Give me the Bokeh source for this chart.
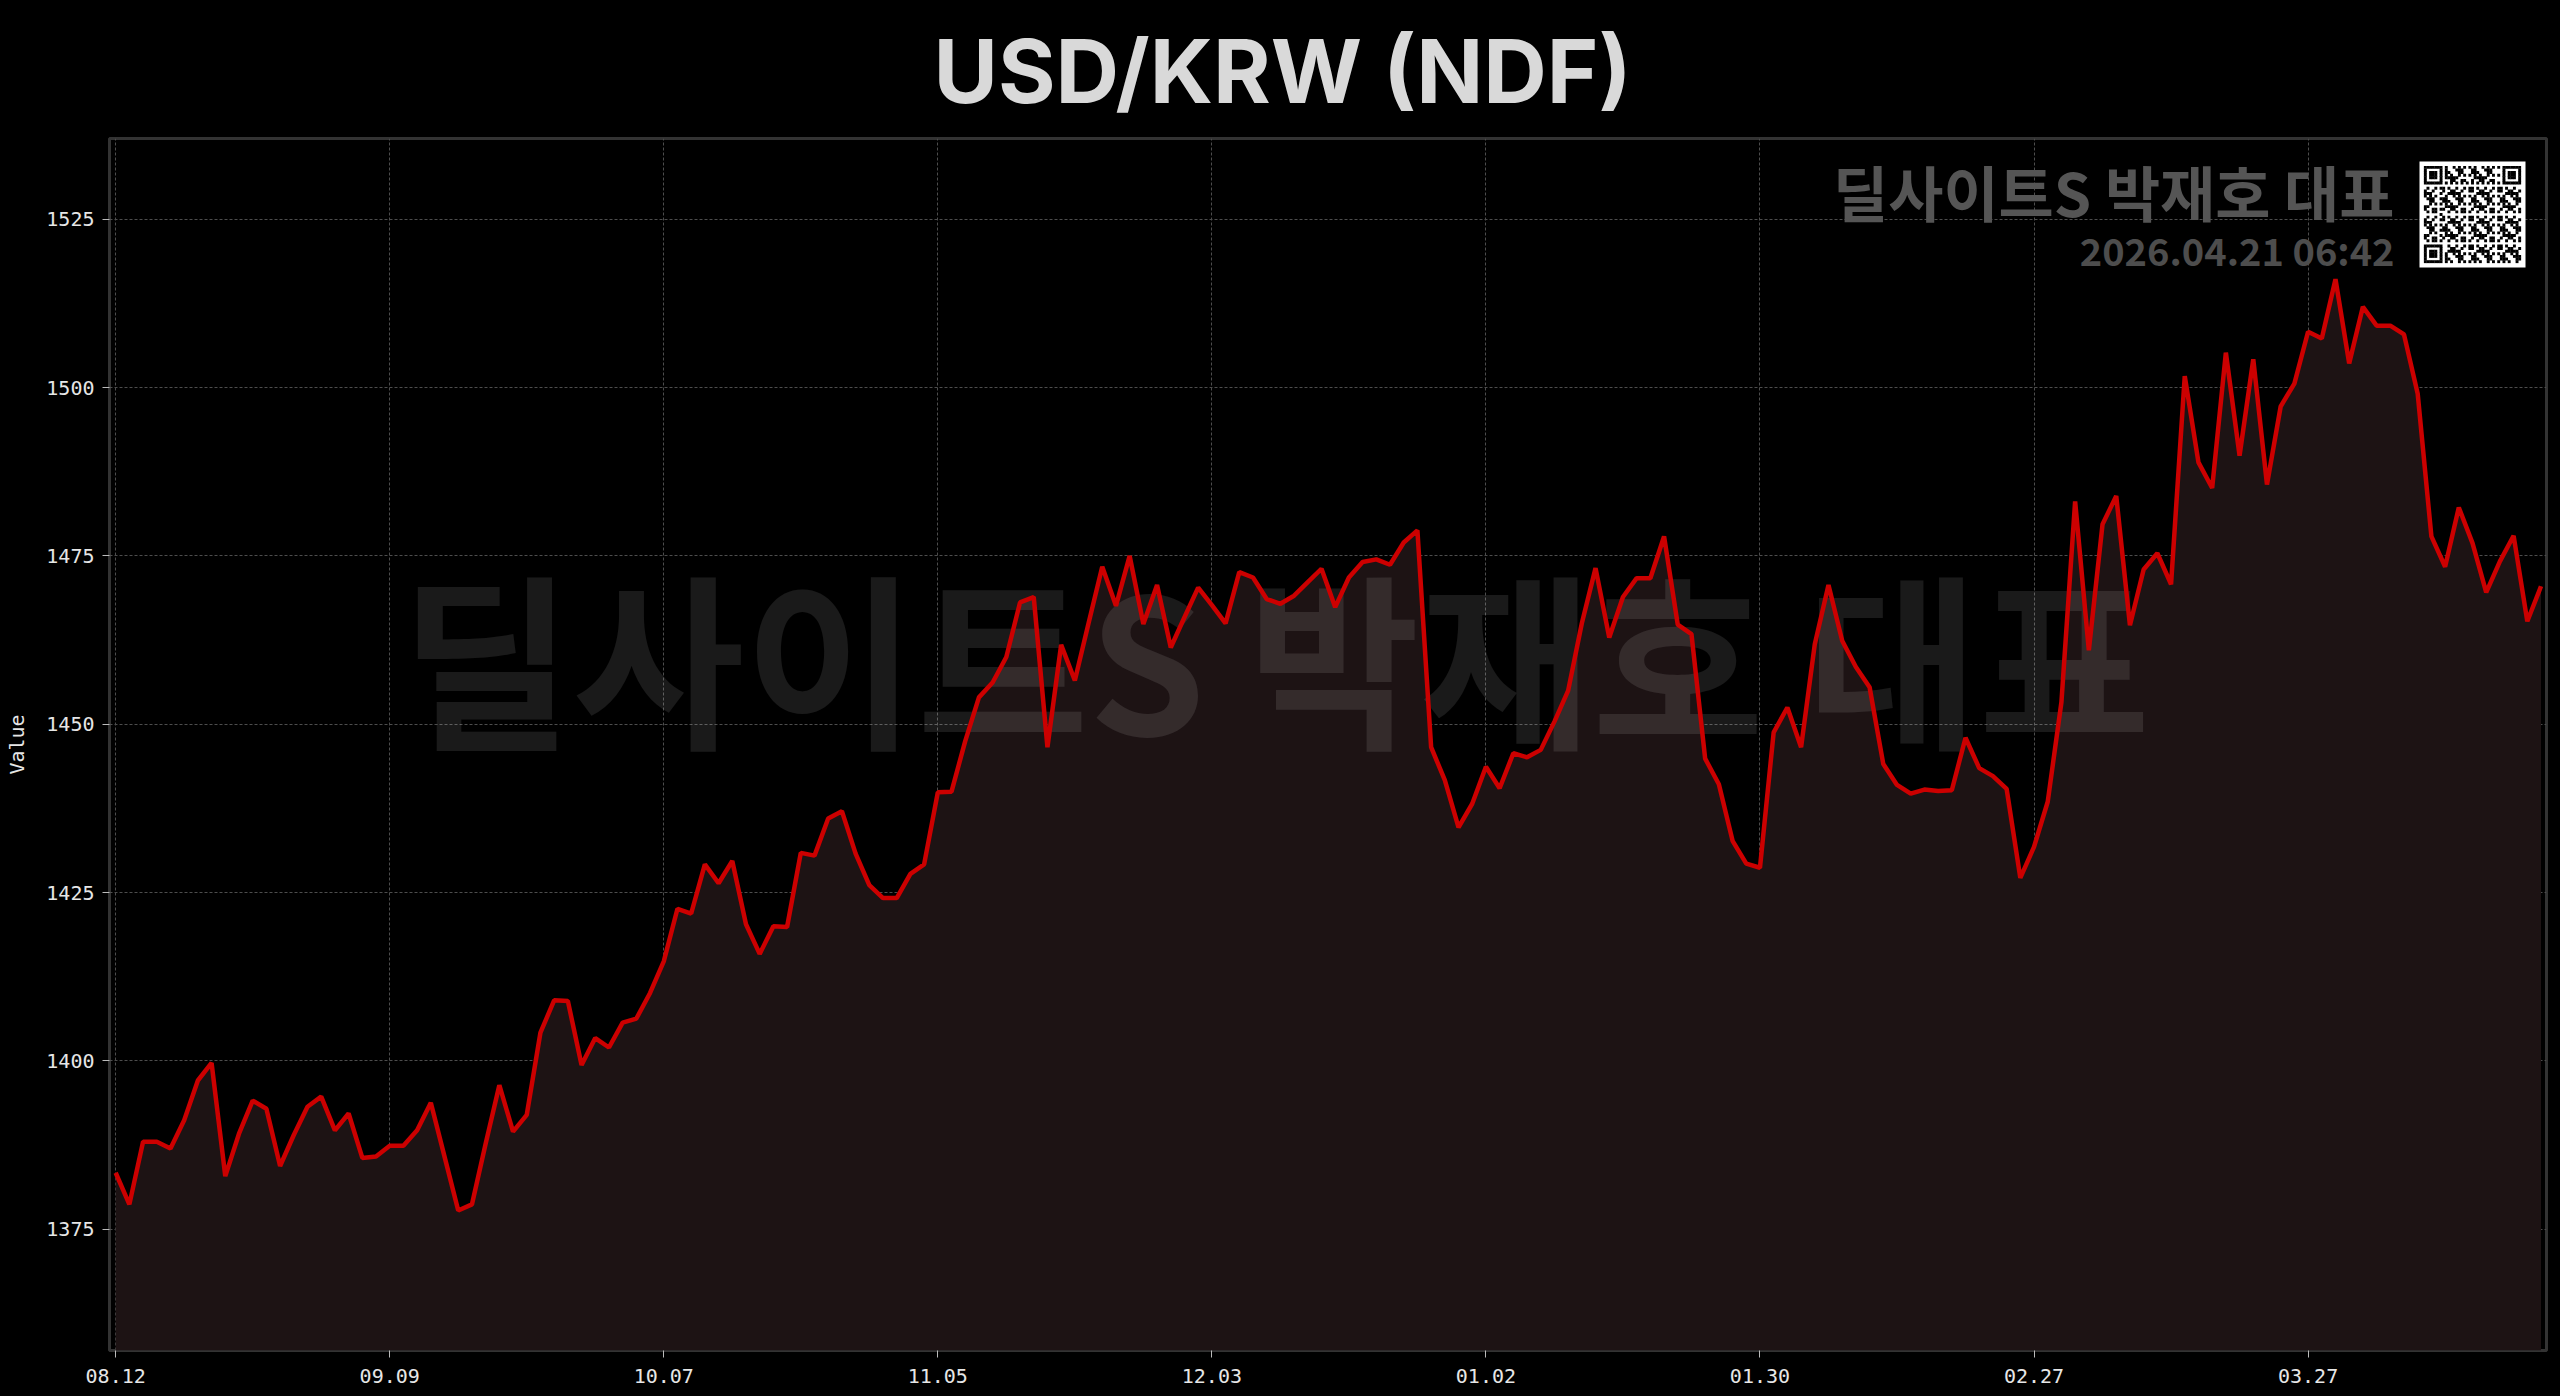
from bokeh.plotting import figure
from bokeh.models import Range1d, FixedTicker, SingleIntervalTicker
from bokeh.core.properties import value
from bokeh.embed import file_html
from bokeh.resources import INLINE

# ---------------- data ----------------
TITLE = "USD/KRW (NDF)"
Y_LABEL = "Value"
TICK_LABELS = ["08.12", "09.09", "10.07", "11.05", "12.03", "01.02", "01.30", "02.27", "03.27"]
TICK_STEP = 20
RATES = [
    1383.4, 1378.7, 1388.0, 1388.0, 1387.0, 1391.2, 1397.1, 1399.7, 1382.9, 1389.2,
    1394.1, 1392.9, 1384.4, 1389.0, 1393.2, 1394.7, 1389.7, 1392.2, 1385.6, 1385.8,
    1387.4, 1387.4, 1389.7, 1393.8, 1385.8, 1377.8, 1378.7, 1387.7, 1396.4, 1389.5,
    1392.0, 1404.2, 1409.0, 1408.9, 1399.4, 1403.4, 1402.0, 1405.7, 1406.3, 1410.1,
    1414.8, 1422.6, 1421.9, 1429.2, 1426.4, 1429.7, 1420.3, 1415.9, 1420.0, 1419.9,
    1430.9, 1430.5, 1436.0, 1437.1, 1430.8, 1426.1, 1424.2, 1424.2, 1427.8, 1429.2,
    1439.9, 1440.0, 1447.5, 1454.0, 1456.2, 1460.0, 1468.1, 1468.9, 1446.6, 1461.8,
    1456.5, 1465.0, 1473.4, 1467.6, 1475.0, 1464.9, 1470.7, 1461.4, 1465.9, 1470.3,
    1467.7, 1465.0, 1472.6, 1471.8, 1468.6, 1467.9, 1469.1, 1471.1, 1473.1, 1467.4,
    1471.8, 1474.1, 1474.5, 1473.7, 1477.0, 1478.8, 1446.6, 1441.7, 1434.7, 1438.2,
    1443.7, 1440.5, 1445.7, 1445.1, 1446.2, 1450.4, 1455.0, 1465.0, 1473.2, 1462.9,
    1468.9, 1471.7, 1471.7, 1477.9, 1464.8, 1463.4, 1444.9, 1441.1, 1432.7, 1429.3,
    1428.7, 1448.8, 1452.5, 1446.6, 1461.9, 1470.7, 1462.4, 1458.5, 1455.5, 1444.1,
    1441.0, 1439.7, 1440.3, 1440.1, 1440.2, 1448.0, 1443.5, 1442.3, 1440.4, 1427.2,
    1431.8, 1438.5, 1453.3, 1483.1, 1461.0, 1479.7, 1483.9, 1464.7, 1473.0, 1475.4,
    1470.8, 1501.7, 1488.9, 1485.1, 1505.2, 1489.9, 1504.2, 1485.6, 1497.2, 1500.6,
    1508.3, 1507.3, 1516.1, 1503.6, 1512.0, 1509.2, 1509.2, 1507.9, 1499.1, 1477.9,
    1473.4, 1482.2, 1476.9, 1469.6, 1474.2, 1478.0, 1465.3, 1470.5,
]
WATERMARK = "딜사이트S 박재호 대표"
STAMP = "2026.04.21 06:42"

# ---------------- layout ----------------
N = len(RATES)
IDX = list(range(N))
X_START, X_END = -0.45, N - 1 + 0.4
Y_START, Y_END = 1357, 1537

W, H = 2560, 1396
BL, BR, BT, BB = 109, 14, 138, 46
FRAME_W = W - BL - BR
FRAME_H = H - BT - BB
PXX = FRAME_W / (X_END - X_START)
PXY = FRAME_H / (Y_END - Y_START)

CJK = "Noto Sans CJK KR"
MONO = "DejaVu Sans Mono"

p = figure(width=W, height=H, output_backend="svg", toolbar_location=None,
           x_range=Range1d(X_START, X_END), y_range=Range1d(Y_START, Y_END),
           min_border_left=BL, min_border_right=BR, min_border_top=BT, min_border_bottom=BB,
           background_fill_color="#000000", border_fill_color="#000000",
           title=TITLE)

p.outline_line_color = "#333333"
p.outline_line_width = 3

p.title.align = "left"
p.title.text_font = "Inter"
p.title.text_font_style = "bold"
p.title.text_font_size = "88px"
p.title.text_color = "#d9d9d9"
p.title.standoff = 29
p.title.offset = 824

# area fill
p.varea(x=IDX, y1=[Y_START] * N, y2=RATES, fill_color="#1d1314", fill_alpha=1.0)

# large watermark (between the fill and the line)
WM_X = X_START + (1166 / PXX)
WM_Y = Y_START + (697 / PXY)
p.text(x=[WM_X], y=[WM_Y], text=[WATERMARK], text_font=value(CJK), text_font_style="bold",
       text_font_size="187px", text_color="#ffffff", text_alpha=0.1,
       text_align="center", text_baseline="middle")

# series line
p.line(IDX, RATES, line_color="#cc0000", line_width=4.5)

# top-right stamp
TR_X = X_START + (2285 / PXX)
p.text(x=[TR_X], y=[Y_START + 1160 / PXY], text=[WATERMARK], text_font=value(CJK),
       text_font_style="bold", text_font_size="60px", text_color="#555555",
       text_align="right", text_baseline="middle")
p.text(x=[TR_X], y=[Y_START + 1101 / PXY], text=[STAMP], text_font=value(CJK),
       text_font_style="bold", text_font_size="38px", text_color="#4d4d4d",
       text_align="right", text_baseline="middle")

# QR-like badge
QR_N = 37
QR_MOD = 2.62
QR_CX = X_START + (2363 / PXX)
QR_CY = Y_START + (1136 / PXY)


def qr_cells():
    cells = []
    corners = [(0, 0), (0, QR_N - 7), (QR_N - 7, 0)]
    for r in range(QR_N):
        for c in range(QR_N):
            fin = False
            for fr, fc in corners:
                if fr - 1 <= r <= fr + 7 and fc - 1 <= c <= fc + 7:
                    fin = True
                    rr, cc = r - fr, c - fc
                    if 0 <= rr <= 6 and 0 <= cc <= 6:
                        if rr in (0, 6) or cc in (0, 6) or (2 <= rr <= 4 and 2 <= cc <= 4):
                            cells.append((r, c))
            if fin:
                continue
            if r == 6:
                dark = c % 2 == 0
            elif c == 6:
                dark = r % 2 == 0
            else:
                dark = ((r * 31 + c * 17 + r * c * 7) % 11) < 5
            if dark:
                cells.append((r, c))
    return cells


p.rect(x=[QR_CX], y=[QR_CY], width=106, height=106, width_units="screen", height_units="screen",
       fill_color="#ffffff", line_color=None)
cells = qr_cells()
half = (QR_N - 1) / 2
qx = [QR_CX + (c - half) * QR_MOD / PXX for r, c in cells]
qy = [QR_CY - (r - half) * QR_MOD / PXY for r, c in cells]
p.rect(x=qx, y=qy, width=QR_MOD + 0.3, height=QR_MOD + 0.3, width_units="screen",
       height_units="screen", fill_color="#000000", line_color=None)

# axes
ticks = list(range(0, N, TICK_STEP))[:len(TICK_LABELS)]
p.xaxis.ticker = FixedTicker(ticks=ticks)
p.xaxis.major_label_overrides = {t: lab for t, lab in zip(ticks, TICK_LABELS)}
p.yaxis.ticker = SingleIntervalTicker(interval=25, num_minor_ticks=0)
p.xgrid.ticker = FixedTicker(ticks=ticks)

for ax in (p.xaxis, p.yaxis):
    ax.axis_line_color = None
    ax.major_label_text_font = MONO
    ax.major_label_text_font_size = "20px"
    ax.major_label_text_color = "#e6e6e6"
    ax.major_tick_line_color = "#bbbbbb"
    ax.major_tick_out = 7
    ax.major_tick_in = 0
    ax.minor_tick_line_color = None
    ax.major_label_standoff = 8

p.xaxis.major_label_standoff = 11
p.yaxis.axis_label = Y_LABEL
p.yaxis.axis_label_text_font = MONO
p.yaxis.axis_label_text_font_size = "20px"
p.yaxis.axis_label_text_font_style = "normal"
p.yaxis.axis_label_text_color = "#e6e6e6"
p.yaxis.axis_label_standoff = 14

p.grid.grid_line_color = "#4d4d4d"
p.grid.grid_line_dash = "3 2"
p.grid.grid_line_width = 1

html = file_html(p, INLINE, title=TITLE)
html = html.replace("<head>", "<head><style>html,body{background:#000000;}</style>", 1)
open("out.html", "w").write(html)
